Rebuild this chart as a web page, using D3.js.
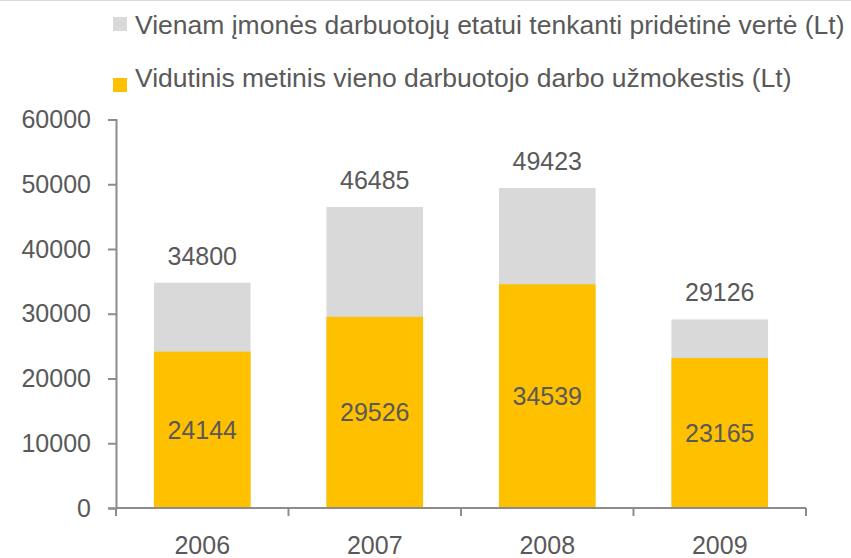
<!DOCTYPE html>
<html>
<head>
<meta charset="utf-8">
<script src="https://cdn.jsdelivr.net/npm/d3@7"></script>
<style>
  body { margin: 0; background: #fff; }
  text { font-family: "Liberation Sans", Arial, sans-serif; fill: #595959; }
</style>
</head>
<body>
<div id="chart"></div>
<script>
const years = ["2006", "2007", "2008", "2009"];
const valueAdded = [34800, 46485, 49423, 29126];
const wages = [24144, 29526, 34539, 23165];
const seriesNames = [
  "Vienam įmonės darbuotojų etatui tenkanti pridėtinė vertė (Lt)",
  "Vidutinis metinis vieno darbuotojo darbo užmokestis (Lt)"
];
const seriesColors = ["#d9d9d9", "#ffc000"];
const yTicks = [0, 10000, 20000, 30000, 40000, 50000, 60000];

const width = 851, height = 558;
const svg = d3.select("#chart").append("svg")
  .attr("width", width)
  .attr("height", height);

// thin frame line at top
svg.append("line")
  .attr("x1", 0).attr("x2", width)
  .attr("y1", 0.5).attr("y2", 0.5)
  .attr("stroke", "#d9d9d9");

const x = d3.scaleBand().domain(years).range([116, 806]).paddingInner(0.44).paddingOuter(0.22);
const y = d3.scaleLinear().domain([0, 60000]).range([508, 119.5]);

// legend
const legend = svg.append("g");
const legendBase = [34, 87];
const legendBox = [17, 78];
seriesNames.forEach((name, i) => {
  legend.append("rect")
    .attr("x", 113).attr("y", legendBox[i])
    .attr("width", 14).attr("height", 14)
    .attr("fill", seriesColors[i]);
  legend.append("text")
    .attr("x", 135).attr("y", legendBase[i])
    .style("font-size", "26.5px")
    .text(name);
});

// bars: gray total behind, orange wage in front
svg.selectAll(".bar-total")
  .data(years)
  .enter().append("rect")
  .attr("x", d => x(d))
  .attr("width", x.bandwidth())
  .attr("y", (d, i) => y(valueAdded[i]))
  .attr("height", (d, i) => y(0) - y(valueAdded[i]))
  .attr("fill", seriesColors[0]);

svg.selectAll(".bar-wage")
  .data(years)
  .enter().append("rect")
  .attr("x", d => x(d))
  .attr("width", x.bandwidth())
  .attr("y", (d, i) => y(wages[i]))
  .attr("height", (d, i) => y(0) - y(wages[i]))
  .attr("fill", seriesColors[1]);

// y axis
const yAxis = svg.append("g")
  .attr("transform", "translate(116,0)")
  .call(d3.axisLeft(y).tickValues(yTicks).tickSize(8).tickPadding(17).tickFormat(d3.format("d")));
yAxis.select(".domain").attr("stroke", "#8c8c8c").attr("stroke-width", 2);
yAxis.selectAll(".tick line").attr("stroke", "#8c8c8c").attr("stroke-width", 2);
yAxis.selectAll(".tick text").style("font-size", "25px").attr("fill", "#595959");

// x axis with boundary ticks between categories
const xAxis = svg.append("g").attr("transform", "translate(0,508)");
xAxis.append("line")
  .attr("x1", 116).attr("x2", 806)
  .attr("stroke", "#8c8c8c").attr("stroke-width", 2);
const step = x.step();
const bounds = years.map((d, i) => x(d) - x.paddingOuter() * step).concat([806]);
xAxis.selectAll(".bnd")
  .data(bounds)
  .enter().append("line")
  .attr("x1", d => d).attr("x2", d => d)
  .attr("y1", 0).attr("y2", 8)
  .attr("stroke", "#8c8c8c").attr("stroke-width", 2);
xAxis.selectAll(".yl")
  .data(years)
  .enter().append("text")
  .attr("x", d => x(d) + x.bandwidth() / 2)
  .attr("y", 46)
  .attr("text-anchor", "middle")
  .style("font-size", "25px")
  .text(d => d);

// value labels
svg.selectAll(".lbl-total")
  .data(years)
  .enter().append("text")
  .attr("x", d => x(d) + x.bandwidth() / 2)
  .attr("y", (d, i) => y(valueAdded[i]) - 18)
  .attr("text-anchor", "middle")
  .style("font-size", "25px")
  .text((d, i) => valueAdded[i]);

svg.selectAll(".lbl-wage")
  .data(years)
  .enter().append("text")
  .attr("x", d => x(d) + x.bandwidth() / 2)
  .attr("y", (d, i) => (y(wages[i]) + y(0)) / 2)
  .attr("dy", "0.35em")
  .attr("text-anchor", "middle")
  .style("font-size", "25px")
  .text((d, i) => wages[i]);
</script>
</body>
</html>
